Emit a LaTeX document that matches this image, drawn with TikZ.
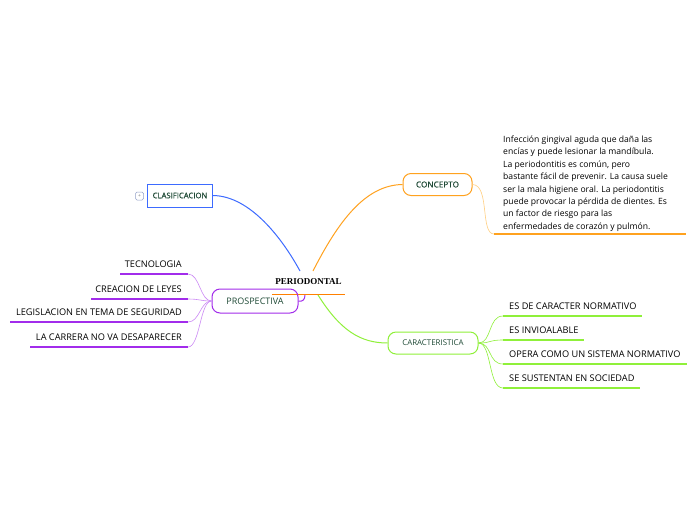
\documentclass[tikz,border=0pt]{standalone}
\usepackage{fontspec}
\setmainfont{Open Sans}
\newfontfamily\boxbold[FakeBold=0.6]{Open Sans}
\newfontfamily\serifbold{Liberation Serif}
\definecolor{cblue}{HTML}{3D6BFF}
\definecolor{corange}{HTML}{FFA21F}
\definecolor{corangelt}{HTML}{FFCF80}
\definecolor{corangeul}{HTML}{FF8000}
\definecolor{cgreen}{HTML}{8FF03A}
\definecolor{cpurple}{HTML}{A22CEB}
\definecolor{cpurplelt}{HTML}{CC8AF5}
\definecolor{ctext}{HTML}{1F4A36}
\tikzset{
  topicbox/.style={draw, line width=1pt, rounded corners=8pt, text=ctext, inner sep=0pt},
  itemtext/.style={font=\fontsize{9.2}{11}\selectfont, text=black, inner sep=0pt},
  conn/.style={line width=1pt},
}
\begin{document}
\begin{tikzpicture}[x=1pt,y=-1pt]
\useasboundingbox[fill=white] (0,0) rectangle (696,520);
% central
\node[font=\serifbold\bfseries\fontsize{9}{10}\selectfont, inner sep=0pt] (central) at (308.5,282) {PERIODONTAL};
\coordinate (ulL) at (272,294.5);
\coordinate (ulR) at (345,294.5);
\draw[corangeul, line width=1.6pt] (ulL) -- (ulR);
\coordinate (cBlue) at (300,271);
\coordinate (cOrange) at (313,271);
\coordinate (cGreen) at (318,295);
\coordinate (cPurple) at (305,295);

% CLASIFICACION
\node[draw=cblue, line width=1pt, minimum width=65pt, minimum height=23pt, font=\boxbold\fontsize{7.7}{9}\selectfont, text=ctext, inner sep=0pt] (clas) at (180,195.5) {CLASIFICACION};
\node[draw=cblue!40!gray!70, line width=0.5pt, rounded corners=1.5pt, minimum size=8pt, inner sep=0pt, font=\fontsize{5}{5}\selectfont, text=gray] (plus) at (139.5,196) {+};
\draw[cblue, conn] (clas.east) .. controls (250,196) and (282,238) .. (cBlue);

% CONCEPTO
\node[topicbox, draw=corange, minimum width=69pt, minimum height=22pt, font=\boxbold\fontsize{8.2}{9}\selectfont] (conc) at (437.5,184.5) {CONCEPTO};
\draw[corange, conn] (cOrange) .. controls (338,222) and (365,185) .. (conc.west);
\coordinate (concL) at (494,234);
\coordinate (concR) at (686,234);
\draw[corangelt, line width=0.6pt] (conc.east) .. controls (490,185) and (480,234) .. (concL);
\draw[corange, line width=1.2pt] (concL) -- (concR);
\node[anchor=north west, inner sep=0pt, font=\fontsize{8.6}{12.45}\selectfont, align=left] (concText) at (503,135.5) {Infección gingival aguda que daña las\\encías y puede lesionar la mandíbula.\\La periodontitis es común, pero\\bastante fácil de prevenir. La causa suele\\ser la mala higiene oral. La periodontitis\\puede provocar la pérdida de dientes. Es\\un factor de riesgo para las\\enfermedades de corazón y pulmón.};

% CARACTERISTICA
\node[topicbox, draw=cgreen, minimum width=90pt, minimum height=22pt, font=\fontsize{7.9}{9}\selectfont] (car) at (433,343) {CARACTERISTICA};
\draw[cgreen, conn] (cGreen) .. controls (340,330) and (360,343) .. (car.west);
\foreach \i/\y/\xe/\t in {1/316/642/ES DE CARACTER NORMATIVO, 2/340/584/ES INVIOALABLE, 3/364/687/OPERA COMO UN SISTEMA NORMATIVO, 4/388/640/SE SUSTENTAN EN SOCIEDAD}{
  \coordinate (gl\i) at (503,\y);
  \coordinate (gr\i) at (\xe,\y);
  \node[itemtext, anchor=base west] (gt\i) at (509,\y-7) {\t};
  \draw[cgreen, line width=0.6pt] (car.east) .. controls (492,343) and (488,\y) .. (gl\i);
  \draw[cgreen, line width=1.4pt] (gl\i) -- (gr\i);
}

% PROSPECTIVA
\node[topicbox, draw=cpurple, minimum width=86pt, minimum height=24pt, font=\fontsize{9}{11}\selectfont] (pros) at (255,301) {PROSPECTIVA};
\draw[cpurple, conn] (cPurple) .. controls (305,300) and (302,302) .. (pros.east);
\foreach \i/\y/\xs/\t in {1/274/120/TECNOLOGIA, 2/299/91/CREACION DE LEYES, 3/322/10/LEGISLACION EN TEMA DE SEGURIDAD, 4/347/30/LA CARRERA NO VA DESAPARECER}{
  \coordinate (pr\i) at (188,\y);
  \coordinate (pl\i) at (\xs,\y);
  \node[itemtext, anchor=base east] (pt\i) at (182,\y-7) {\t};
  \draw[cpurplelt, line width=0.6pt] (pros.west) .. controls (200,301) and (200,\y) .. (pr\i);
  \draw[cpurple, line width=1.4pt] (pr\i) -- (pl\i);
}
\end{tikzpicture}
\end{document}
